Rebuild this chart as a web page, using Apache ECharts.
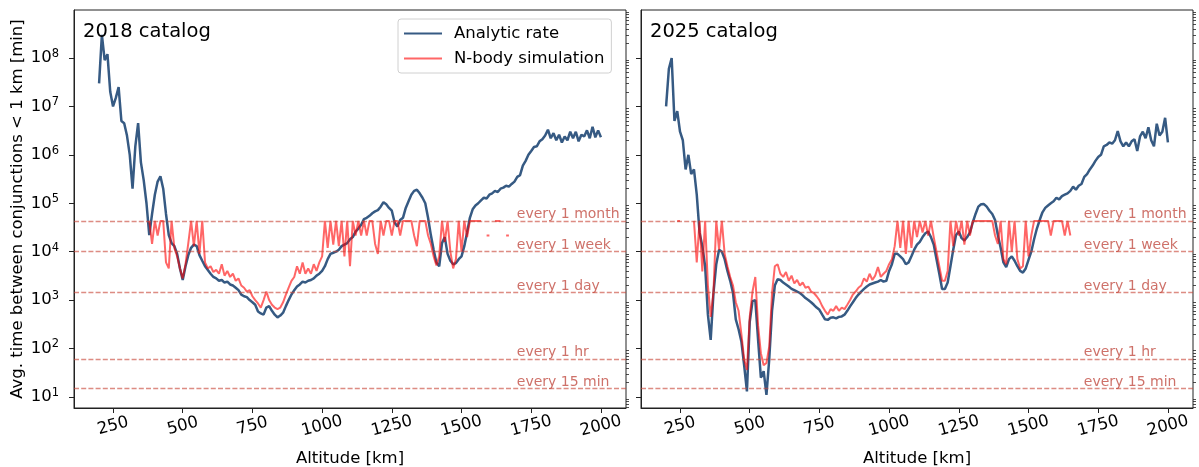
<!DOCTYPE html>
<html><head><meta charset="utf-8">
<script src="https://cdn.jsdelivr.net/npm/echarts@6/dist/echarts.min.js"></script>
<style>html,body{margin:0;padding:0;background:#fff}#c{width:1199px;height:467px}</style>
</head><body><div id="c"></div>
<script>
// ---------------- data ----------------
const altitudes = [
 200,210,220,230,240,250,260,270,280,290,
 300,310,320,330,340,350,360,370,380,390,
 400,410,420,430,440,450,460,470,480,490,
 500,510,520,530,540,550,560,570,580,590,
 600,610,620,630,640,650,660,670,680,690,
 700,710,720,730,740,750,760,770,780,790,
 800,810,820,830,840,850,860,870,880,890,
 900,910,920,930,940,950,960,970,980,990,
 1000,1010,1020,1030,1040,1050,1060,1070,1080,1090,
 1100,1110,1120,1130,1140,1150,1160,1170,1180,1190,
 1200,1210,1220,1230,1240,1250,1260,1270,1280,1290,
 1300,1310,1320,1330,1340,1350,1360,1370,1380,1390,
 1400,1410,1420,1430,1440,1450,1460,1470,1480,1490,
 1500,1510,1520,1530,1540,1550,1560,1570,1580,1590,
 1600,1610,1620,1630,1640,1650,1660,1670,1680,1690,
 1700,1710,1720,1730,1740,1750,1760,1770,1780,1790,
 1800,1810,1820,1830,1840,1850,1860,1870,1880,1890,
 1900,1910,1920,1930,1940,1950,1960,1970,1980,1990,
 2000];

const analytic2018 = [
 3.0e7,3.0e8,9.0e7,1.2e8,2.0e7,1.0e7,1.5e7,2.5e7,5.0e6,4.5e6,
 2.5e6,1.0e6,2.0e5,1.5e6,4.5e6,7.0e5,3.0e5,1.0e5,2.2e4,6.0e4,
 1.5e5,2.8e5,3.6e5,2.0e5,6.0e4,2.2e4,1.5e4,1.3e4,9.0e3,4.5e3,
 2.6e3,5.0e3,8.5e3,1.2e4,1.4e4,1.3e4,8.5e3,6.5e3,5.0e3,4.2e3,
 3.5e3,3.0e3,2.8e3,2.5e3,2.6e3,2.3e3,2.4e3,2.1e3,2.0e3,1.8e3,
 1.6e3,1.3e3,1.2e3,1.15e3,1.0e3,9.0e2,8.0e2,5.8e2,5.3e2,5.0e2,
 7.0e2,7.5e2,6.0e2,5.0e2,4.4e2,4.8e2,5.5e2,7.5e2,1.0e3,1.3e3,
 1.6e3,1.9e3,2.1e3,2.4e3,2.3e3,2.5e3,2.6e3,2.8e3,3.2e3,3.5e3,
 4.0e3,5.0e3,7.0e3,9.0e3,9.5e3,1.0e4,1.1e4,1.3e4,1.4e4,1.5e4,
 1.8e4,2.0e4,2.6e4,3.0e4,3.6e4,4.7e4,5.0e4,5.5e4,6.2e4,6.8e4,
 7.2e4,8.5e4,1.05e5,9.5e4,8.0e4,7.0e4,4.0e4,3.3e4,4.5e4,5.0e4,
 8.0e4,1.1e5,1.5e5,1.8e5,1.9e5,1.6e5,1.3e5,1.0e5,5.0e4,2.2e4,
 1.1e4,6.0e3,5.0e3,1.5e4,2.0e4,9.0e3,6.5e3,5.5e3,5.8e3,7.0e3,
 8.0e3,1.3e4,2.5e4,5.0e4,7.5e4,9.0e4,1.0e5,1.15e5,1.3e5,1.25e5,
 1.5e5,1.6e5,1.8e5,1.7e5,2.0e5,2.1e5,2.3e5,2.2e5,2.5e5,2.8e5,
 3.5e5,3.8e5,6.0e5,7.5e5,1.0e6,1.2e6,1.45e6,1.5e6,1.9e6,2.1e6,
 2.5e6,3.3e6,2.2e6,2.8e6,2.0e6,2.6e6,1.8e6,2.4e6,2.0e6,3.0e6,
 2.2e6,3.0e6,1.9e6,2.6e6,2.4e6,3.2e6,2.2e6,3.8e6,2.3e6,3.2e6,
 2.3e6];

const nbody2018 = [
 null,null,null,null,null,null,null,null,null,null,
 null,null,null,null,null,null,null,null,43200,14400,
 43200,21600,43200,43200,6000,4500,43200,1.2e4,8.0e3,4.5e3,
 2.8e3,5.5e3,1.5e4,43200,1.3e4,43200,9.0e3,43200,6.0e3,4.5e3,
 5.0e3,3.8e3,4.2e3,3.5e3,5.5e3,3.2e3,4.0e3,3.0e3,3.5e3,2.5e3,
 2.8e3,2.0e3,1.8e3,1.5e3,1.6e3,1.2e3,1.0e3,8.5e2,7.0e2,1.0e3,
 1.5e3,1.0e3,8.0e2,7.0e2,6.5e2,7.0e2,9.0e2,1.3e3,1.8e3,2.5e3,
 3.0e3,5.0e3,3.5e3,6.0e3,3.5e3,4.5e3,3.5e3,5.5e3,4.0e3,6.0e3,
 8.0e3,43200,1.2e4,43200,1.4e4,43200,1.3e4,43200,8.0e3,43200,
 5.0e3,43200,21600,43200,21600,43200,21600,43200,43200,14400,
 9000,43200,21600,43200,43200,21600,43200,43200,21600,43200,
 43200,43200,43200,21600,13000,43200,43200,43200,21600,14400,
 8000,5200,8000,43200,1.6e4,43200,1.0e4,4.5e3,7.0e3,43200,
 1.0e4,43200,2.0e4,43200,43200,43200,43200,43200,null,21600,
 21600,null,43200,43200,43200,null,21600,21600,null,null,
 null,null,null,null,null,null,null,null,null,null,
 null,null,null,null,null,null,null,null,null,null,
 null,null,null,null,null,null,null,null,null,null,
 null];

const analytic2025 = [
 1.0e7,6.0e7,1.0e8,5.0e6,8.0e6,3.0e6,2.0e6,5.0e5,1.0e6,4.0e5,
 5.0e5,1.5e5,2.5e4,1.3e4,5.0e3,5.0e2,1.5e2,1.4e3,5.5e3,1.1e4,
 1.0e4,7.0e3,4.0e3,2.5e3,1.4e3,4.0e2,2.5e2,1.4e2,45,13,
 3.5e2,9.5e2,1.0e3,1.5e2,25,34,11,60,6.0e2,2.0e3,
 2.7e3,2.6e3,2.3e3,2.1e3,1.9e3,1.7e3,1.6e3,1.5e3,1.4e3,1.25e3,
 1.1e3,1.0e3,9.0e2,8.0e2,7.0e2,6.3e2,5.0e2,4.0e2,3.9e2,4.3e2,
 4.4e2,4.2e2,4.5e2,4.6e2,5.0e2,6.0e2,7.4e2,9.0e2,1.1e3,1.3e3,
 1.5e3,1.7e3,1.9e3,2.1e3,2.2e3,2.3e3,2.4e3,2.6e3,2.4e3,2.5e3,
 4.0e3,5.5e3,9.0e3,9.0e3,8.0e3,7.0e3,5.5e3,6.0e3,8.0e3,1.1e4,
 1.4e4,1.6e4,2.0e4,2.4e4,2.6e4,2.0e4,1.4e4,7.0e3,3.5e3,1.7e3,
 1.7e3,2.3e3,5.0e3,1.1e4,2.2e4,2.6e4,1.9e4,1.7e4,2.0e4,2.5e4,
 4.0e4,6.0e4,8.5e4,9.5e4,9.6e4,8.5e4,7.0e4,6.0e4,4.5e4,2.2e4,
 1.2e4,6.0e3,4.8e3,7.0e3,8.0e3,6.5e3,5.0e3,4.0e3,3.7e3,4.5e3,
 6.8e3,1.0e4,1.8e4,3.0e4,4.5e4,6.5e4,8.0e4,9.0e4,1.0e5,1.1e5,
 1.3e5,1.2e5,1.4e5,1.5e5,1.6e5,1.8e5,2.2e5,1.9e5,2.3e5,2.5e5,
 3.5e5,4.0e5,5.0e5,6.0e5,7.5e5,9.0e5,1.0e6,1.5e6,1.6e6,1.8e6,
 1.7e6,2.0e6,3.1e6,1.9e6,1.5e6,1.8e6,1.5e6,1.9e6,2.1e6,1.2e6,
 2.4e6,3.0e6,2.2e6,3.7e6,2.0e6,1.5e6,4.4e6,2.5e6,3.0e6,5.8e6,
 1.8e6];

const nbody2025 = [
 null,null,null,null,43200,43200,null,null,null,null,
 43200,6000,43200,3900,43200,2000,450,1500,43200,1.1e4,
 43200,9000,5000,3000,2000,900,600,200,60,36,
 450,1500,3000,300,80,45,50,110,1400,5000,
 5500,3500,3000,3800,2500,3200,2200,2600,2000,2300,
 1800,1900,1500,1400,1200,1000,750,600,500,650,
 600,750,600,700,650,800,1000,1300,1500,1800,
 2000,2800,2400,3500,2600,3200,4800,3000,3500,4000,
 5500,7000,1.3e4,43200,1.2e4,43200,9000,43200,1.2e4,43200,
 2.0e4,43200,2.5e4,43200,21600,43200,2.0e4,1.0e4,5000,2500,
 2500,4000,43200,1.3e4,43200,21600,43200,1.4e4,43200,21600,
 43200,43200,43200,43200,43200,43200,43200,43200,21600,14400,
 43200,7000,5500,43200,1.0e4,43200,7000,4500,5000,43200,
 8000,21600,43200,43200,43200,43200,43200,43200,21600,43200,
 43200,43200,43200,21600,43200,21600,null,null,null,null,
 null,null,null,null,null,null,null,null,null,null,
 null,null,null,null,null,null,null,null,null,null,
 null,null,null,null,null,null,null,null,null,null,
 null];

const panelTitles = ['2018 catalog', '2025 catalog'];
const seriesNames = ['Analytic rate', 'N-body simulation'];
const refValues = [43200, 10080, 1440, 60, 15];
const refLabels = ['every 1 month', 'every 1 week', 'every 1 day', 'every 1 hr', 'every 15 min'];
const refLabelAltitude = 1700;
const xTicks = [250, 500, 750, 1000, 1250, 1500, 1750, 2000];
const yMajorTicks = [1e1, 1e2, 1e3, 1e4, 1e5, 1e6, 1e7, 1e8];
const yMinorTicks = [6, 7, 8, 9,
 2e1,3e1,4e1,5e1,6e1,7e1,8e1,9e1, 2e2,3e2,4e2,5e2,6e2,7e2,8e2,9e2,
 2e3,3e3,4e3,5e3,6e3,7e3,8e3,9e3, 2e4,3e4,4e4,5e4,6e4,7e4,8e4,9e4,
 2e5,3e5,4e5,5e5,6e5,7e5,8e5,9e5, 2e6,3e6,4e6,5e6,6e6,7e6,8e6,9e6,
 2e7,3e7,4e7,5e7,6e7,7e7,8e7,9e7, 2e8,3e8,4e8,5e8,6e8,7e8,8e8,9e8];
const xRange = [110, 2090];
const yRange = [5.9, 9.8e8];

// ---------------- styling ----------------
const FONT = 'DejaVu Sans';
const FS = 16.5;
const AX = '#222';
const BLUE = '#365a83';
const RED = 'rgba(255,0,0,0.6)';
const REF_LINE = 'rgba(200,70,55,0.62)';
const REF_TEXT = '#c24e43';

const panels = [
  {analytic: analytic2018, nbody: nbody2018, left: 74},
  {analytic: analytic2025, nbody: nbody2025, left: 641}
];

function pairs(vals) {
  return altitudes.map((a, i) => [a, vals[i] === null ? '-' : vals[i]]);
}

const grid = [], xAxis = [], yAxis = [], series = [], title = [];
panels.forEach((p, i) => {
  grid.push({left: p.left, top: 10, width: 552, height: 398, show: true,
    containLabel: false, outerBoundsMode: 'none',
    borderColor: AX, borderWidth: 1, backgroundColor: 'transparent'});
  title.push({text: panelTitles[i], left: p.left + 9, top: 22, padding: 0,
    textStyle: {fontSize: 19.5, fontWeight: 'normal', color: '#000', fontFamily: FONT}});
  xAxis.push({type: 'value', gridIndex: i, min: xRange[0], max: xRange[1],
    splitLine: {show: false},
    axisLine: {show: true, lineStyle: {color: AX, width: 1}},
    axisTick: {show: true, customValues: xTicks, length: 5, lineStyle: {color: AX, width: 1}},
    axisLabel: {customValues: xTicks, rotate: 15, align: 'center', verticalAlign: 'middle',
      margin: 18, fontSize: FS, color: '#000', fontFamily: FONT, formatter: v => String(v)},
    name: 'Altitude [km]', nameLocation: 'middle', nameGap: 42,
    nameTextStyle: {fontSize: FS, color: '#000', fontFamily: FONT}});
  yAxis.push({type: 'log', logBase: 10, gridIndex: i, min: yRange[0], max: yRange[1],
    splitLine: {show: false},
    axisLine: {show: true, lineStyle: {color: AX, width: 1}},
    axisTick: {show: true, customValues: yMajorTicks, length: 5, lineStyle: {color: AX, width: 1}},
    axisLabel: {show: i === 0, customValues: yMajorTicks, margin: 15, color: '#000',
      formatter: v => '{b|10}{s|' + Math.round(Math.log10(v)) + '}',
      rich: {b: {fontSize: FS, fontFamily: FONT, color: '#000', lineHeight: 20},
             s: {fontSize: 11.5, fontFamily: FONT, color: '#000', verticalAlign: 'top', lineHeight: 13}}},
    name: i === 0 ? 'Avg. time between conjunctions < 1 km [min]' : '',
    nameLocation: 'middle', nameGap: 48, nameRotate: 90,
    nameTextStyle: {fontSize: FS, color: '#000', fontFamily: FONT}});
  yAxis.push({type: 'log', logBase: 10, gridIndex: i, min: yRange[0], max: yRange[1],
    splitLine: {show: false}, axisLine: {show: false},
    axisTick: {show: true, customValues: yMinorTicks, length: 3, lineStyle: {color: AX, width: 0.8}},
    axisLabel: {show: false}});

  series.push({type: 'scatter', xAxisIndex: i, yAxisIndex: 2 * i, z: 1, silent: true,
    symbol: 'circle', symbolSize: 1, itemStyle: {color: 'rgba(0,0,0,0)'},
    data: refValues.map((v, k) => ({name: refLabels[k], value: [refLabelAltitude, v]})),
    label: {show: true, position: [0, 0], align: 'left', verticalAlign: 'bottom', offset: [0, 1],
      formatter: '{b}', fontSize: 14, color: REF_TEXT, fontFamily: FONT},
    markLine: {silent: true, symbol: ['none', 'none'], label: {show: false},
      lineStyle: {color: REF_LINE, type: [5, 2.2], width: 1.3},
      data: refValues.map(v => ({yAxis: v}))}});
  series.push({type: 'line', name: seriesNames[0], xAxisIndex: i, yAxisIndex: 2 * i, z: 2,
    symbol: 'none', data: pairs(p.analytic),
    lineStyle: {color: BLUE, width: 2.5}, itemStyle: {color: BLUE}});
  series.push({type: 'line', name: seriesNames[1], xAxisIndex: i, yAxisIndex: 2 * i, z: 3,
    symbol: 'none', data: pairs(p.nbody), connectNulls: false,
    lineStyle: {color: RED, width: 2}, itemStyle: {color: RED}});
});

const chart = echarts.init(document.getElementById('c'), null, {renderer: 'canvas'});
chart.setOption({
  animation: false,
  backgroundColor: '#fff',
  textStyle: {fontFamily: FONT},
  title: title,
  legend: {data: seriesNames, left: 398, top: 19, orient: 'vertical', icon: 'rect',
    itemWidth: 38, itemHeight: 2, itemGap: 8, padding: [6, 7, 6, 6],
    backgroundColor: 'rgba(255,255,255,0.8)', borderColor: '#d0d0d0', borderWidth: 1, borderRadius: 3,
    textStyle: {fontSize: FS, color: '#000', fontFamily: FONT, padding: [0, 0, 0, 7]}},
  grid: grid, xAxis: xAxis, yAxis: yAxis, series: series
});
</script></body></html>
